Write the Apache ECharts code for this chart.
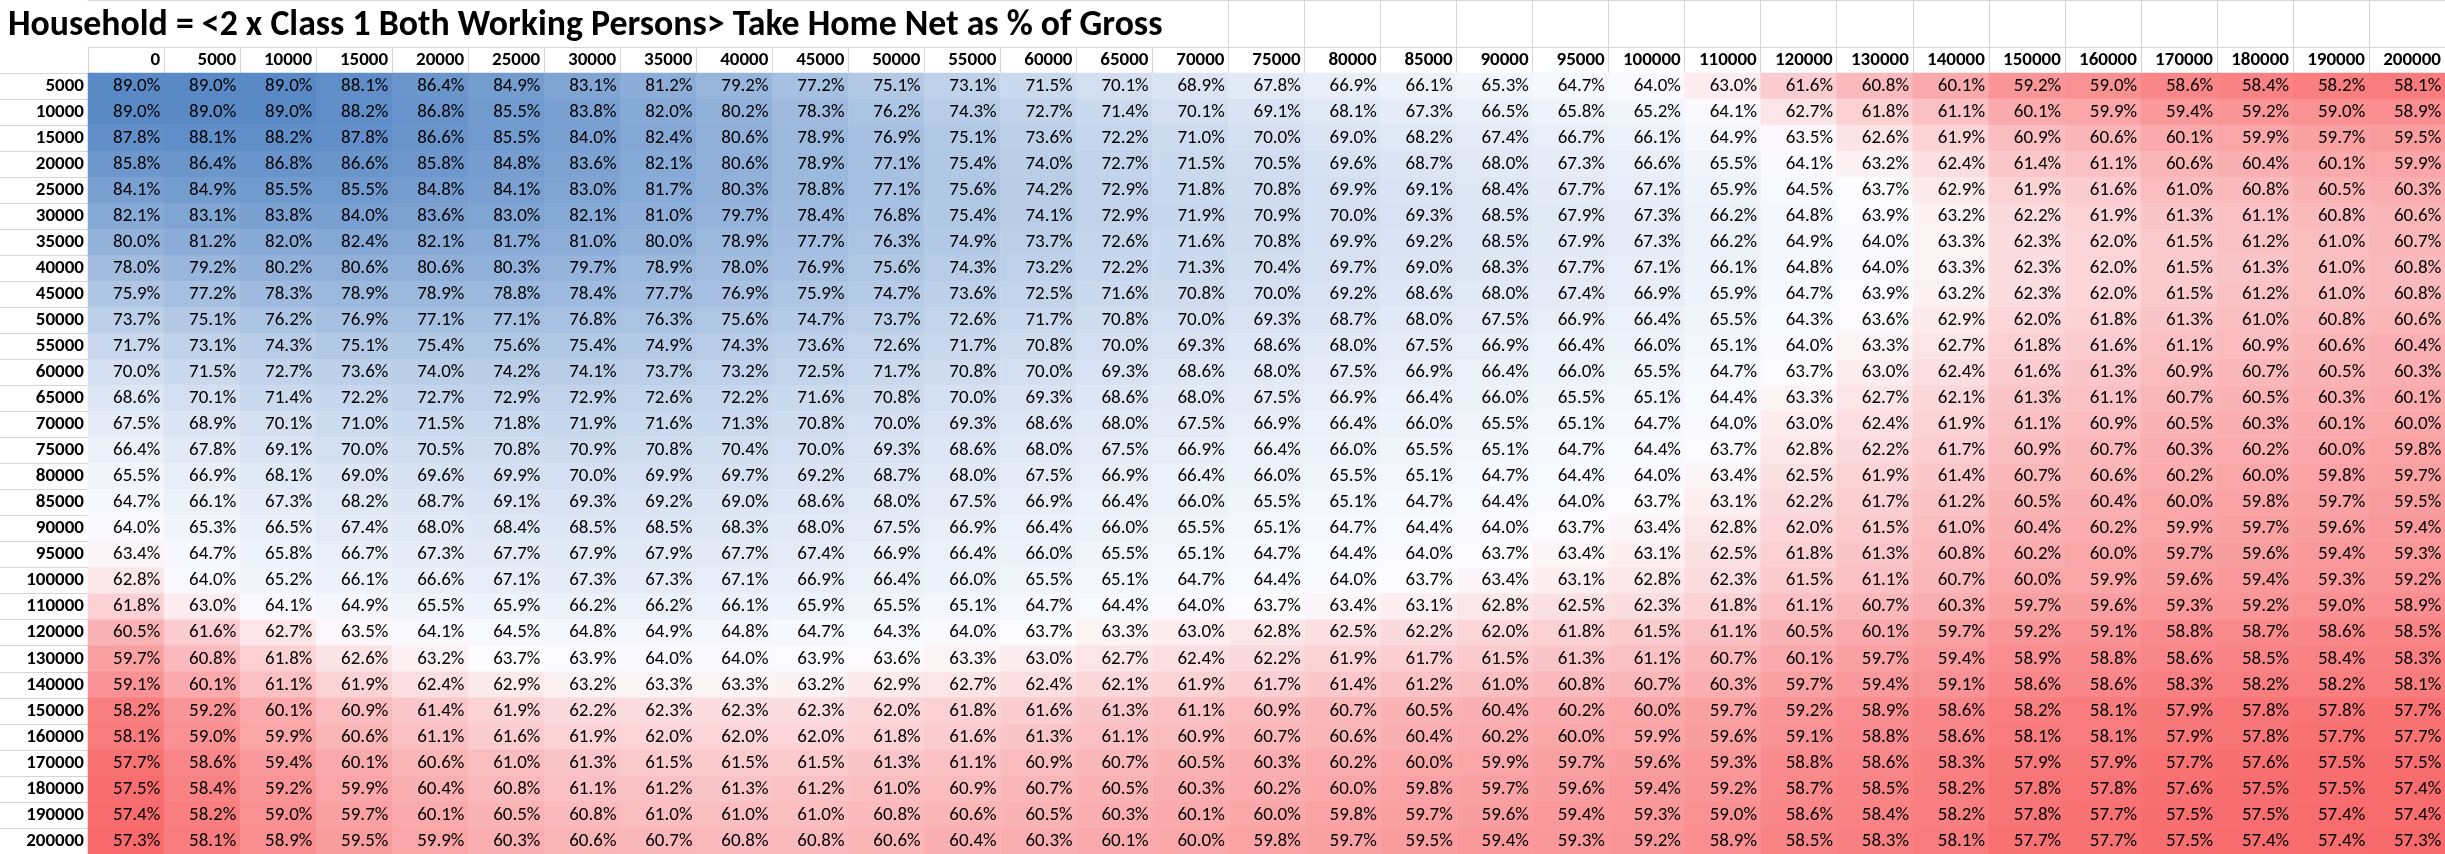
<!DOCTYPE html>
<html>
<head>
<meta charset="utf-8">
<script src="https://cdn.jsdelivr.net/npm/echarts@6/dist/echarts.min.js"></script>
<style>
html,body{margin:0;padding:0;background:#fff;}
#chart{width:2445px;height:854px;}
</style>
</head>
<body>
<div id="chart"></div>
<script>
const titleText = 'Household = <2 x Class 1 Both Working Persons> Take Home Net as % of Gross';
const colLabels = ['0','5000','10000','15000','20000','25000','30000','35000','40000','45000','50000','55000','60000','65000','70000','75000','80000','85000','90000','95000','100000','110000','120000','130000','140000','150000','160000','170000','180000','190000','200000'];
const rowLabels = ['5000','10000','15000','20000','25000','30000','35000','40000','45000','50000','55000','60000','65000','70000','75000','80000','85000','90000','95000','100000','110000','120000','130000','140000','150000','160000','170000','180000','190000','200000'];

const row5000   = [89.0,89.0,89.0,88.1,86.4,84.9,83.1,81.2,79.2,77.2,75.1,73.1,71.5,70.1,68.9,67.8,66.9,66.1,65.3,64.7,64.0,63.0,61.6,60.8,60.1,59.2,59.0,58.6,58.4,58.2,58.1];
const row10000  = [89.0,89.0,89.0,88.2,86.8,85.5,83.8,82.0,80.2,78.3,76.2,74.3,72.7,71.4,70.1,69.1,68.1,67.3,66.5,65.8,65.2,64.1,62.7,61.8,61.1,60.1,59.9,59.4,59.2,59.0,58.9];
const row15000  = [87.8,88.1,88.2,87.8,86.6,85.5,84.0,82.4,80.6,78.9,76.9,75.1,73.6,72.2,71.0,70.0,69.0,68.2,67.4,66.7,66.1,64.9,63.5,62.6,61.9,60.9,60.6,60.1,59.9,59.7,59.5];
const row20000  = [85.8,86.4,86.8,86.6,85.8,84.8,83.6,82.1,80.6,78.9,77.1,75.4,74.0,72.7,71.5,70.5,69.6,68.7,68.0,67.3,66.6,65.5,64.1,63.2,62.4,61.4,61.1,60.6,60.4,60.1,59.9];
const row25000  = [84.1,84.9,85.5,85.5,84.8,84.1,83.0,81.7,80.3,78.8,77.1,75.6,74.2,72.9,71.8,70.8,69.9,69.1,68.4,67.7,67.1,65.9,64.5,63.7,62.9,61.9,61.6,61.0,60.8,60.5,60.3];
const row30000  = [82.1,83.1,83.8,84.0,83.6,83.0,82.1,81.0,79.7,78.4,76.8,75.4,74.1,72.9,71.9,70.9,70.0,69.3,68.5,67.9,67.3,66.2,64.8,63.9,63.2,62.2,61.9,61.3,61.1,60.8,60.6];
const row35000  = [80.0,81.2,82.0,82.4,82.1,81.7,81.0,80.0,78.9,77.7,76.3,74.9,73.7,72.6,71.6,70.8,69.9,69.2,68.5,67.9,67.3,66.2,64.9,64.0,63.3,62.3,62.0,61.5,61.2,61.0,60.7];
const row40000  = [78.0,79.2,80.2,80.6,80.6,80.3,79.7,78.9,78.0,76.9,75.6,74.3,73.2,72.2,71.3,70.4,69.7,69.0,68.3,67.7,67.1,66.1,64.8,64.0,63.3,62.3,62.0,61.5,61.3,61.0,60.8];
const row45000  = [75.9,77.2,78.3,78.9,78.9,78.8,78.4,77.7,76.9,75.9,74.7,73.6,72.5,71.6,70.8,70.0,69.2,68.6,68.0,67.4,66.9,65.9,64.7,63.9,63.2,62.3,62.0,61.5,61.2,61.0,60.8];
const row50000  = [73.7,75.1,76.2,76.9,77.1,77.1,76.8,76.3,75.6,74.7,73.7,72.6,71.7,70.8,70.0,69.3,68.7,68.0,67.5,66.9,66.4,65.5,64.3,63.6,62.9,62.0,61.8,61.3,61.0,60.8,60.6];
const row55000  = [71.7,73.1,74.3,75.1,75.4,75.6,75.4,74.9,74.3,73.6,72.6,71.7,70.8,70.0,69.3,68.6,68.0,67.5,66.9,66.4,66.0,65.1,64.0,63.3,62.7,61.8,61.6,61.1,60.9,60.6,60.4];
const row60000  = [70.0,71.5,72.7,73.6,74.0,74.2,74.1,73.7,73.2,72.5,71.7,70.8,70.0,69.3,68.6,68.0,67.5,66.9,66.4,66.0,65.5,64.7,63.7,63.0,62.4,61.6,61.3,60.9,60.7,60.5,60.3];
const row65000  = [68.6,70.1,71.4,72.2,72.7,72.9,72.9,72.6,72.2,71.6,70.8,70.0,69.3,68.6,68.0,67.5,66.9,66.4,66.0,65.5,65.1,64.4,63.3,62.7,62.1,61.3,61.1,60.7,60.5,60.3,60.1];
const row70000  = [67.5,68.9,70.1,71.0,71.5,71.8,71.9,71.6,71.3,70.8,70.0,69.3,68.6,68.0,67.5,66.9,66.4,66.0,65.5,65.1,64.7,64.0,63.0,62.4,61.9,61.1,60.9,60.5,60.3,60.1,60.0];
const row75000  = [66.4,67.8,69.1,70.0,70.5,70.8,70.9,70.8,70.4,70.0,69.3,68.6,68.0,67.5,66.9,66.4,66.0,65.5,65.1,64.7,64.4,63.7,62.8,62.2,61.7,60.9,60.7,60.3,60.2,60.0,59.8];
const row80000  = [65.5,66.9,68.1,69.0,69.6,69.9,70.0,69.9,69.7,69.2,68.7,68.0,67.5,66.9,66.4,66.0,65.5,65.1,64.7,64.4,64.0,63.4,62.5,61.9,61.4,60.7,60.6,60.2,60.0,59.8,59.7];
const row85000  = [64.7,66.1,67.3,68.2,68.7,69.1,69.3,69.2,69.0,68.6,68.0,67.5,66.9,66.4,66.0,65.5,65.1,64.7,64.4,64.0,63.7,63.1,62.2,61.7,61.2,60.5,60.4,60.0,59.8,59.7,59.5];
const row90000  = [64.0,65.3,66.5,67.4,68.0,68.4,68.5,68.5,68.3,68.0,67.5,66.9,66.4,66.0,65.5,65.1,64.7,64.4,64.0,63.7,63.4,62.8,62.0,61.5,61.0,60.4,60.2,59.9,59.7,59.6,59.4];
const row95000  = [63.4,64.7,65.8,66.7,67.3,67.7,67.9,67.9,67.7,67.4,66.9,66.4,66.0,65.5,65.1,64.7,64.4,64.0,63.7,63.4,63.1,62.5,61.8,61.3,60.8,60.2,60.0,59.7,59.6,59.4,59.3];
const row100000 = [62.8,64.0,65.2,66.1,66.6,67.1,67.3,67.3,67.1,66.9,66.4,66.0,65.5,65.1,64.7,64.4,64.0,63.7,63.4,63.1,62.8,62.3,61.5,61.1,60.7,60.0,59.9,59.6,59.4,59.3,59.2];
const row110000 = [61.8,63.0,64.1,64.9,65.5,65.9,66.2,66.2,66.1,65.9,65.5,65.1,64.7,64.4,64.0,63.7,63.4,63.1,62.8,62.5,62.3,61.8,61.1,60.7,60.3,59.7,59.6,59.3,59.2,59.0,58.9];
const row120000 = [60.5,61.6,62.7,63.5,64.1,64.5,64.8,64.9,64.8,64.7,64.3,64.0,63.7,63.3,63.0,62.8,62.5,62.2,62.0,61.8,61.5,61.1,60.5,60.1,59.7,59.2,59.1,58.8,58.7,58.6,58.5];
const row130000 = [59.7,60.8,61.8,62.6,63.2,63.7,63.9,64.0,64.0,63.9,63.6,63.3,63.0,62.7,62.4,62.2,61.9,61.7,61.5,61.3,61.1,60.7,60.1,59.7,59.4,58.9,58.8,58.6,58.5,58.4,58.3];
const row140000 = [59.1,60.1,61.1,61.9,62.4,62.9,63.2,63.3,63.3,63.2,62.9,62.7,62.4,62.1,61.9,61.7,61.4,61.2,61.0,60.8,60.7,60.3,59.7,59.4,59.1,58.6,58.6,58.3,58.2,58.2,58.1];
const row150000 = [58.2,59.2,60.1,60.9,61.4,61.9,62.2,62.3,62.3,62.3,62.0,61.8,61.6,61.3,61.1,60.9,60.7,60.5,60.4,60.2,60.0,59.7,59.2,58.9,58.6,58.2,58.1,57.9,57.8,57.8,57.7];
const row160000 = [58.1,59.0,59.9,60.6,61.1,61.6,61.9,62.0,62.0,62.0,61.8,61.6,61.3,61.1,60.9,60.7,60.6,60.4,60.2,60.0,59.9,59.6,59.1,58.8,58.6,58.1,58.1,57.9,57.8,57.7,57.7];
const row170000 = [57.7,58.6,59.4,60.1,60.6,61.0,61.3,61.5,61.5,61.5,61.3,61.1,60.9,60.7,60.5,60.3,60.2,60.0,59.9,59.7,59.6,59.3,58.8,58.6,58.3,57.9,57.9,57.7,57.6,57.5,57.5];
const row180000 = [57.5,58.4,59.2,59.9,60.4,60.8,61.1,61.2,61.3,61.2,61.0,60.9,60.7,60.5,60.3,60.2,60.0,59.8,59.7,59.6,59.4,59.2,58.7,58.5,58.2,57.8,57.8,57.6,57.5,57.5,57.4];
const row190000 = [57.4,58.2,59.0,59.7,60.1,60.5,60.8,61.0,61.0,61.0,60.8,60.6,60.5,60.3,60.1,60.0,59.8,59.7,59.6,59.4,59.3,59.0,58.6,58.4,58.2,57.8,57.7,57.5,57.5,57.4,57.4];
const row200000 = [57.3,58.1,58.9,59.5,59.9,60.3,60.6,60.7,60.8,60.8,60.6,60.4,60.3,60.1,60.0,59.8,59.7,59.5,59.4,59.3,59.2,58.9,58.5,58.3,58.1,57.7,57.7,57.5,57.4,57.4,57.3];

const rows = [row5000,row10000,row15000,row20000,row25000,row30000,row35000,row40000,row45000,row50000,row55000,row60000,row65000,row70000,row75000,row80000,row85000,row90000,row95000,row100000,row110000,row120000,row130000,row140000,row150000,row160000,row170000,row180000,row190000,row200000];

// heatmap data built from the arrays
const cells = [];
const allVals = [];
rows.forEach((r, yi) => r.forEach((v, xi) => { cells.push([xi, yi, v]); allVals.push(v); }));

// Excel 3-colour scale: min red, 50th percentile white, max blue
const sorted = allVals.slice().sort((a, b) => a - b);
const vMin = sorted[0], vMax = sorted[sorted.length - 1];
const pos = (sorted.length - 1) * 0.5;
const lo = Math.floor(pos), hi = Math.ceil(pos);
const vMid = sorted[lo] + (sorted[hi] - sorted[lo]) * (pos - lo);
const cRed = [248, 105, 107], cWhite = [252, 252, 255], cBlue = [90, 138, 198];
function mix(a, b, t) { return 'rgb(' + a.map((x, i) => Math.round(x + (b[i] - x) * t)).join(',') + ')'; }
const stops = [];
const N = 160;
for (let i = 0; i <= N; i++) {
  const v = vMin + (vMax - vMin) * i / N;
  stops.push(v <= vMid ? mix(cRed, cWhite, (v - vMin) / (vMid - vMin)) : mix(cWhite, cBlue, (v - vMid) / (vMax - vMid)));
}

const FONT = "Carlito, 'Liberation Sans Narrow', 'Liberation Sans', sans-serif";
function fitSize(text, weight, targetW) {
  const ctx = document.createElement('canvas').getContext('2d');
  ctx.font = weight + ' 100px ' + FONT;
  return 100 * targetW / ctx.measureText(text).width;
}
const titleSize = Math.min(37, fitSize(titleText, 'bold', 1155));

const GRID_LEFT = 88, GRID_TOP = 73;
const colW = (2445 - GRID_LEFT) / colLabels.length;
const gridColor = '#D4D4D4';

const chart = echarts.init(document.getElementById('chart'), null, { renderer: 'canvas' });
chart.setOption({
  animation: false,
  backgroundColor: '#ffffff',
  title: {
    text: titleText,
    left: 8, top: 6, padding: 0,
    textStyle: { fontFamily: FONT, fontWeight: 'bold', fontSize: titleSize, color: '#000', lineHeight: 40 }
  },
  grid: { left: GRID_LEFT, right: 0, top: GRID_TOP, bottom: 0, containLabel: false },
  xAxis: [{
    type: 'category', position: 'top', data: colLabels,
    axisLine: { show: true, lineStyle: { color: gridColor, width: 1 } },
    axisTick: { show: true, inside: false, length: GRID_TOP - 47, interval: 0, lineStyle: { color: gridColor, width: 1 } },
    axisLabel: {
      interval: 0, align: 'right', verticalAlign: 'middle', margin: 13,
      padding: [0, -(colW / 2 - 4), 0, 0],
      fontFamily: FONT, fontWeight: 'bold', fontSize: 19, color: '#000'
    },
    splitLine: { show: false }
  }, {
    type: 'category', position: 'top', offset: GRID_TOP - 47, data: colLabels,
    axisLine: { show: true, lineStyle: { color: gridColor, width: 1 } },
    axisTick: { show: true, inside: false, length: 47, interval: (i) => i >= 15, lineStyle: { color: gridColor, width: 1 } },
    axisLabel: { show: false }
  }, {
    type: 'category', position: 'top', offset: GRID_TOP - 0.5, data: colLabels,
    axisLine: { show: true, lineStyle: { color: gridColor, width: 1 } },
    axisTick: { show: false }, axisLabel: { show: false }
  }],
  yAxis: {
    type: 'category', inverse: true, data: rowLabels,
    axisLine: { show: false },
    axisTick: { show: true, inside: false, length: GRID_LEFT, interval: 0, lineStyle: { color: gridColor, width: 1 } },
    axisLabel: { interval: 0, margin: 4, fontFamily: FONT, fontWeight: 'bold', fontSize: 19, color: '#000' },
    splitLine: { show: false }
  },
  visualMap: {
    show: false, type: 'continuous', dimension: 2,
    min: vMin, max: vMax, inRange: { color: stops }
  },
  series: [{
    type: 'heatmap', xAxisIndex: 0, data: cells,
    label: {
      show: true, position: 'insideRight', distance: 4,
      formatter: (p) => p.value[2].toFixed(1) + '%',
      fontFamily: FONT, fontSize: 19, color: '#000'
    },
    itemStyle: { borderWidth: 0 },
    emphasis: { disabled: true }
  }]
});
</script>
</body>
</html>
